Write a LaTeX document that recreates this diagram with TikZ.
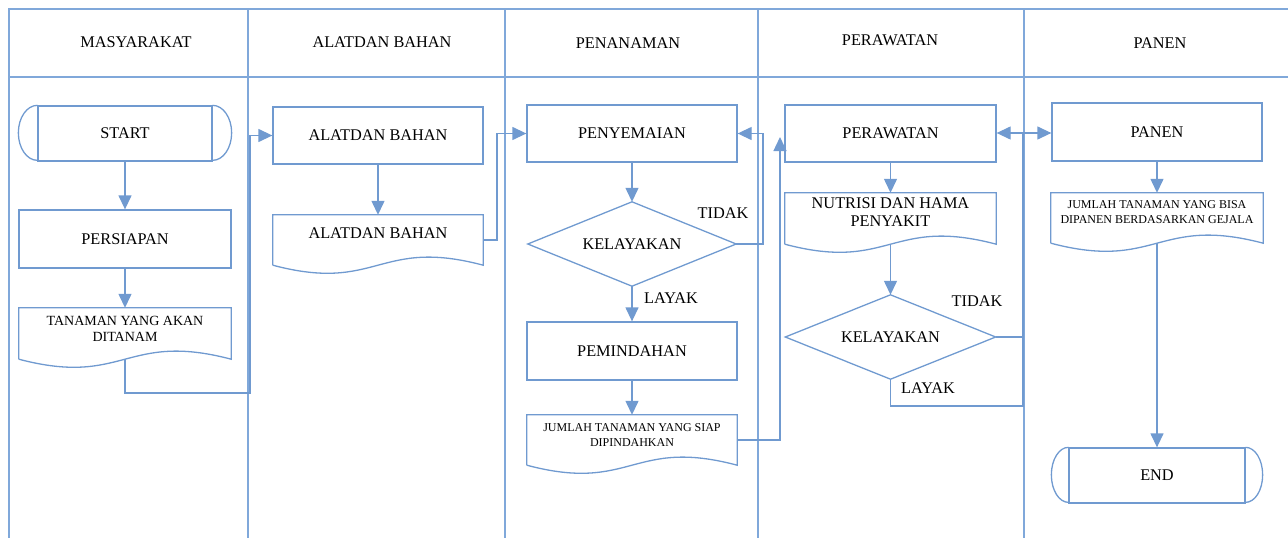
\documentclass[tikz,border=0pt]{standalone}
\usepackage{fontspec}
\setmainfont{Liberation Serif}
\usetikzlibrary{arrows.meta,calc}
\definecolor{laneblue}{RGB}{128,168,218}
\definecolor{flowblue}{RGB}{112,154,208}
\newcommand\fsmain{\fontsize{16.3}{18}\selectfont}
\newcommand\fsmid{\fontsize{14}{16}\selectfont}
\newcommand\fssmall{\fontsize{12}{15}\selectfont}
% document symbol: straight top and sides, wavy bottom
\newcommand\docoutline[1]{%
  \draw[line] (#1.south west) -- (#1.north west) -- (#1.north east) -- (#1.south east)
    .. controls ($(#1.south)+(0,-28)$) and ($(#1.south)+(0,28)$) .. (#1.south west);}
% terminal symbol: rounded caps outside the inner bars
\newcommand\termcaps[2]{%
  \draw[line] (#1.north west) arc[start angle=90,end angle=270,x radius=#2,y radius=27.5pt];
  \draw[line] (#1.north east) arc[start angle=90,end angle=-90,x radius=#2,y radius=27.5pt];}
% decision symbol drawn on the anchors of a plain box
\newcommand\decoutline[1]{%
  \draw[line] (#1.north) -- (#1.east) -- (#1.south) -- (#1.west) -- cycle;}
\begin{document}
\begin{tikzpicture}[x=1pt,y=-1pt,
  line/.style={draw=flowblue,line width=1.3pt},
  conn/.style={line,-{Triangle[width=13pt,length=14pt,fill=flowblue]}},
  lane/.style={draw=laneblue,line width=1.2pt},
  procbox/.style={line,rectangle,minimum width=210pt,minimum height=57pt,inner sep=0pt,align=center,font=\fsmain},
  termbox/.style={line,rectangle,minimum height=55pt,inner sep=0pt,align=center,font=\fsmain},
  docbox/.style={rectangle,minimum width=211pt,minimum height=50pt,inner sep=0pt,align=center},
  decbox/.style={rectangle,minimum height=84pt,inner sep=0pt,align=center,font=\fsmain},
  head/.style={font=\fsmain,inner sep=0pt},
  tag/.style={font=\fsmain,inner sep=0pt}]
\useasboundingbox (0,0) rectangle (1288,538);

% swimlane frame
\draw[lane] (9,538) -- (9,9) -- (1288,9);
\draw[lane] (9,77) -- (1288,77);
\foreach \lx in {248,505,758,1024} \draw[lane] (\lx,9) -- (\lx,538);

% lane titles
\node[head] (h1) at (136,42) {MASYARAKAT};
\node[head] (h2) at (382,42) {ALATDAN BAHAN};
\node[head] (h3) at (628,43) {PENANAMAN};
\node[head] (h4) at (890,40) {PERAWATAN};
\node[head] (h5) at (1160,43) {PANEN};

% MASYARAKAT
\node[termbox,minimum width=174pt] (start) at (125,133.5) {START};
\termcaps{start}{19pt}
\node[procbox,minimum width=212pt,minimum height=58pt] (prep) at (125,239) {PERSIAPAN};
\node[docbox,minimum width=212pt,minimum height=51pt,font=\fsmid] (plants) at (125,333.5) {TANAMAN YANG AKAN\\DITANAM\\[-6pt]};
\docoutline{plants}

% ALAT DAN BAHAN
\node[procbox] (tools) at (378,135.5) {ALATDAN BAHAN};
\node[docbox,minimum width=210pt,font=\fsmain] (toolsdoc) at (378,240) {ALATDAN BAHAN\\[-4pt]};
\docoutline{toolsdoc}

% PENANAMAN
\node[procbox] (seed) at (632,133.5) {PENYEMAIAN};
\node[decbox,minimum width=208pt] (check1) at (632,244) {KELAYAKAN};
\decoutline{check1}
\node[procbox,minimum height=58pt] (move) at (632,351) {PEMINDAHAN};
\node[docbox,minimum width=210pt,font=\fssmall] (movedoc) at (632,440) {JUMLAH TANAMAN YANG SIAP\\DIPINDAHKAN\\[-6pt]};
\docoutline{movedoc}

% PERAWATAN
\node[procbox,minimum width=211pt] (care) at (890.5,133.5) {PERAWATAN};
\node[docbox,minimum width=211pt,minimum height=51pt,font=\fsmain] (caredoc) at (890.5,218.5) {NUTRISI DAN HAMA\\PENYAKIT\\[-6pt]};
\docoutline{caredoc}
\node[decbox,minimum width=210pt] (check2) at (890.5,337) {KELAYAKAN};
\decoutline{check2}

% PANEN
\node[procbox,minimum height=58pt] (harvest) at (1157,132) {PANEN};
\node[docbox,minimum width=212pt,font=\fssmall] (harvestdoc) at (1157,218) {JUMLAH TANAMAN YANG BISA\\DIPANEN BERDASARKAN GEJALA\\[-4pt]};
\docoutline{harvestdoc}
\node[termbox,minimum width=176pt] (finish) at (1157,475.5) {END};
\termcaps{finish}{17pt}

% bend points of the connectors
\coordinate (b1) at (250,393);
\coordinate (b2) at (497,200);
\coordinate (b3) at (763,200);
\coordinate (b4) at (780,137);
\coordinate (b5) at (1023,133);
\coordinate (b6) at (1023,406);

% connectors
\draw[conn] (start) -- (prep);
\draw[conn] (prep) -- (plants);
\draw[conn] (plants.south) |- (b1) |- (tools.west);
\draw[conn] (tools) -- (toolsdoc);
\draw[conn] (toolsdoc.east) -| (b2) |- (seed.west);
\draw[conn] (seed) -- (check1.north);
\draw[conn] (check1.east) -| (b3) |- (seed.east);
\draw[conn] (check1.south) -- (move.north);
\draw[conn] (move) -- (movedoc);
\draw[conn] (movedoc.east) -| (b4);
\draw[conn] (care) -- (caredoc);
\draw[conn] (caredoc.south) -- (check2.north);
\draw[line] (check2.east) -| (b5);
\draw[line] (check2.south) |- (b6) -- (b5);
\draw[conn] (b5) -- (care.east |- b5);
\draw[conn] (b5) -- (harvest.west |- b5);
\draw[conn] (harvest) -- (harvestdoc);
\draw[conn] (harvestdoc.south) -- (finish.north);

% decision labels
\node[tag] (no1) at (723,213) {TIDAK};
\node[tag] (yes1) at (671,298) {LAYAK};
\node[tag] (no2) at (977,301) {TIDAK};
\node[tag] (yes2) at (928,388) {LAYAK};
\end{tikzpicture}
\end{document}
